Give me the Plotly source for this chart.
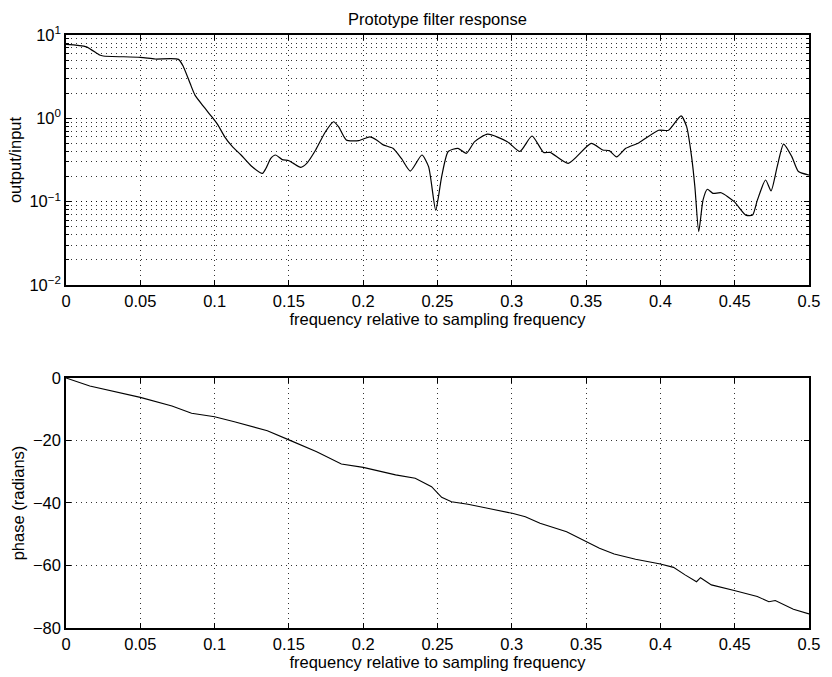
import plotly.graph_objects as go
from plotly.subplots import make_subplots

# Magnitude response (output/input) vs relative frequency
mag_f = [0.0, 0.0137, 0.0226, 0.025, 0.05, 0.06, 0.0757, 0.079, 0.0835, 0.0868, 0.0924, 0.098,
         0.1023, 0.1068, 0.112, 0.1178, 0.1245, 0.1322, 0.1345, 0.1378, 0.141, 0.1455, 0.15,
         0.153, 0.158, 0.162, 0.168, 0.1746, 0.18, 0.1835, 0.1886, 0.197, 0.2045, 0.209,
         0.2135, 0.22, 0.2257, 0.2317, 0.2395, 0.244, 0.2488, 0.2528, 0.2572, 0.2638, 0.2694,
         0.275, 0.2837, 0.297, 0.3054, 0.3136, 0.3214, 0.3258, 0.338, 0.3534, 0.3612, 0.3656,
         0.3705, 0.3767, 0.3856, 0.3988, 0.4055, 0.4139, 0.4177, 0.421, 0.4232, 0.4258, 0.4287,
         0.4316, 0.4353, 0.4409, 0.4497, 0.4575, 0.462, 0.4653, 0.4708, 0.4745, 0.4786, 0.4829,
         0.4885, 0.4929, 0.5]
mag_v = [7.7, 7.2, 5.75, 5.6, 5.4, 5.15, 5.1, 4.17, 2.63, 1.9, 1.4, 1.05,
         0.83, 0.6, 0.457, 0.363, 0.27, 0.219, 0.25, 0.33, 0.363, 0.32, 0.31,
         0.288, 0.258, 0.288, 0.417, 0.69, 0.91, 0.79, 0.55, 0.54, 0.6, 0.55,
         0.48, 0.437, 0.33, 0.233, 0.363, 0.263, 0.079, 0.2, 0.4, 0.437, 0.38,
         0.525, 0.645, 0.525, 0.4, 0.614, 0.39, 0.39, 0.288, 0.5, 0.417, 0.41,
         0.345, 0.437, 0.51, 0.72, 0.72, 1.07, 0.79, 0.345, 0.151, 0.0437, 0.105,
         0.141, 0.126, 0.128, 0.1, 0.069, 0.069, 0.105, 0.182, 0.135, 0.263, 0.49,
         0.345, 0.23, 0.209]

# Phase response (radians)
ph_f = [0.0, 0.016, 0.05, 0.0713, 0.0845, 0.1, 0.1133, 0.1355, 0.15, 0.1687, 0.1853, 0.2,
        0.2218, 0.235, 0.246, 0.2494, 0.2528, 0.2594, 0.2705, 0.2837, 0.3003, 0.3091, 0.319,
        0.3369, 0.35, 0.359, 0.3689, 0.3833, 0.4, 0.4088, 0.4166, 0.4243, 0.427, 0.4343,
        0.4497, 0.4652, 0.473, 0.4773, 0.4895, 0.5]
ph_v = [0.0, -2.56, -6.2, -8.96, -11.3, -12.4, -14.0, -16.9, -19.8, -23.6, -27.5, -28.6,
        -31.0, -32.1, -34.8, -36.4, -38.2, -39.6, -40.4, -41.7, -43.3, -44.4, -46.5,
        -49.2, -52.2, -54.5, -56.3, -58.0, -59.5, -60.6, -63.0, -65.2, -63.9, -66.2,
        -68.0, -69.9, -71.6, -71.2, -74.0, -75.5]

x_ticks = [0, 0.05, 0.1, 0.15, 0.2, 0.25, 0.3, 0.35, 0.4, 0.45, 0.5]
x_ticklabels = ["0", "0.05", "0.1", "0.15", "0.2", "0.25", "0.3", "0.35", "0.4", "0.45", "0.5"]
mag_ticks = [0.01, 0.1, 1, 10]
mag_ticklabels = ["10<sup>\u22122</sup>", "10<sup>\u22121</sup>", "10<sup>0</sup>", "10<sup>1</sup>"]
ph_ticks = [0, -20, -40, -60, -80]
ph_ticklabels = ["0", "\u221220", "\u221240", "\u221260", "\u221280"]

title_text = "Prototype filter response"
x_title = "frequency relative to sampling frequency"

FONT = "Liberation Sans, Arial, Helvetica, sans-serif"
FS = 16.5
DOT = "1px,4px"

fig = make_subplots(rows=2, cols=1, vertical_spacing=0.0)

fig.add_trace(go.Scatter(x=mag_f, y=mag_v, mode="lines",
                         line=dict(color="black", width=1.2, shape="spline", smoothing=0.6),
                         showlegend=False), row=1, col=1)
fig.add_trace(go.Scatter(x=ph_f, y=ph_v, mode="lines",
                         line=dict(color="black", width=1.1),
                         showlegend=False), row=2, col=1)

axis_common = dict(showline=True, linecolor="black", linewidth=1.5, mirror="ticks",
                   ticks="inside", ticklen=5, tickcolor="black", tickwidth=1,
                   showgrid=True, gridcolor="rgba(0,0,0,0.8)", griddash=DOT, gridwidth=1,
                   zeroline=False, tickfont=dict(size=FS, color="black", family=FONT))

fig.update_xaxes(**axis_common, range=[0, 0.5], tickvals=x_ticks, ticktext=x_ticklabels,
                 title=dict(text=x_title, font=dict(size=FS, color="black", family=FONT), standoff=1))
fig.update_yaxes(**axis_common)

fig.update_yaxes(type="log", range=[-2, 1], tickvals=mag_ticks, ticktext=mag_ticklabels,
                 title=dict(text="output/input", font=dict(size=FS, color="black", family=FONT), standoff=4),
                 minor=dict(dtick="D1", showgrid=True, gridcolor="rgba(0,0,0,0.8)", griddash=DOT,
                            gridwidth=1, ticks="inside", ticklen=3, tickcolor="black"),
                 row=1, col=1)
fig.update_yaxes(range=[-80, 0], tickvals=ph_ticks, ticktext=ph_ticklabels,
                 title=dict(text="phase (radians)", font=dict(size=FS, color="black", family=FONT), standoff=4),
                 row=2, col=1)

fig.update_layout(
    width=832, height=677,
    margin=dict(l=66, r=13, t=35, b=49),
    paper_bgcolor="white", plot_bgcolor="white",
    font=dict(family=FONT, color="black"),
    xaxis=dict(domain=[0, 1]), xaxis2=dict(domain=[0, 1]),
    yaxis=dict(domain=[0.5784, 1.0]), yaxis2=dict(domain=[0.0, 0.4216]),
    annotations=[dict(text=title_text, xref="paper", yref="paper", x=0.5, y=1.0,
                      yshift=5, xanchor="center", yanchor="bottom", showarrow=False,
                      font=dict(size=FS, color="black", family=FONT))],
)

fig.write_html("out.html")
